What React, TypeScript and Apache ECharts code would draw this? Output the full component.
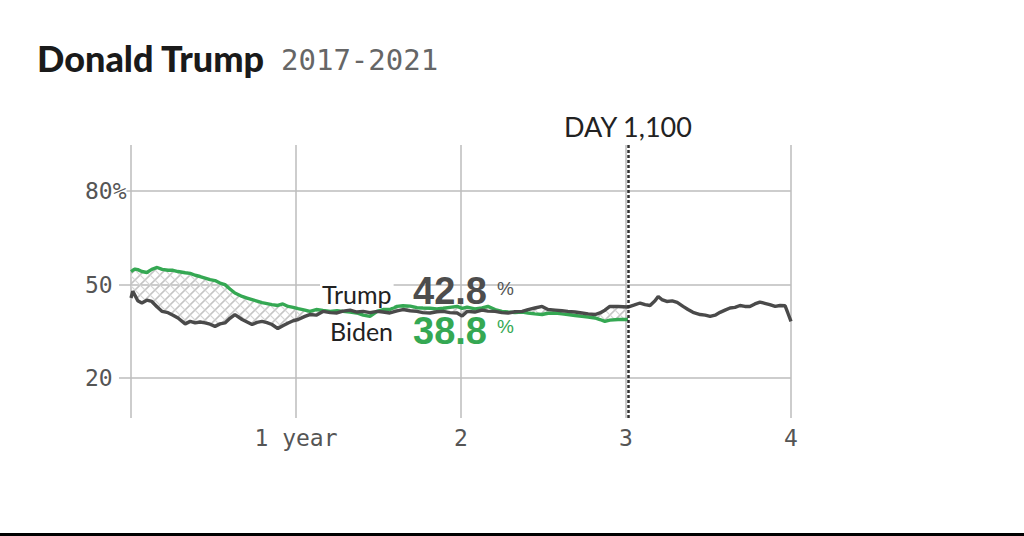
import React, { useEffect, useRef } from "react";
import * as echarts from "echarts";

// Days since inauguration (shared sample points up to day 1,100)
const sharedDays = [
  0, 4, 9, 15, 24, 35, 46, 58, 69, 82, 93, 104, 120, 131, 142, 153, 164, 175, 186, 197, 208, 219, 230,
  246, 257, 268, 279, 290, 301, 312, 325, 336, 348, 359, 370, 385, 396, 410, 425, 441, 456, 469, 485,
  500, 514, 529, 545, 558, 573, 589, 602, 618, 633, 646, 662, 677, 691, 706, 722, 733, 744, 761, 777,
  790, 806, 821, 835, 850, 866, 879, 894, 910, 923, 939, 954, 967, 983, 998, 1012, 1027, 1038, 1049,
  1060, 1078, 1100,
];
const trumpShared = [
  45.7, 47.9, 46.5, 44.8, 44.1, 45.0, 44.6, 42.8, 41.4, 41.0, 40.2, 39.3, 37.4, 38.2, 37.7, 38.0, 37.7,
  37.3, 36.6, 37.4, 37.7, 39.2, 40.4, 38.8, 38.0, 37.2, 37.9, 38.2, 37.8, 37.2, 35.9, 36.8, 37.7, 38.4,
  38.8, 39.8, 40.4, 40.2, 41.4, 41.0, 40.9, 41.5, 41.8, 41.2, 41.4, 41.0, 41.4, 41.2, 40.9, 41.6, 42.0,
  41.6, 41.4, 41.0, 40.9, 41.3, 41.4, 41.0, 40.9, 39.9, 41.4, 41.2, 41.8, 41.5, 41.4, 41.0, 40.9, 41.3,
  41.4, 42.0, 42.5, 43.0, 42.0, 41.8, 41.6, 41.4, 41.2, 40.9, 40.6, 40.4, 40.9, 41.8, 43.0, 43.0, 42.8,
];
const bidenShared = [
  54.2, 54.6, 55.0, 54.8, 54.2, 53.9, 54.9, 55.5, 54.9, 54.6, 54.6, 54.2, 53.8, 53.6, 53.0, 52.6, 52.1,
  51.6, 51.3, 50.5, 50.0, 48.6, 47.3, 46.2, 45.7, 45.2, 44.7, 44.2, 43.9, 43.6, 43.3, 43.8, 43.0, 42.7,
  42.3, 41.8, 41.4, 42.0, 41.7, 41.4, 41.6, 41.4, 41.2, 40.9, 40.2, 39.8, 41.4, 42.0, 42.0, 43.0, 43.2,
  43.1, 42.6, 42.5, 42.4, 42.2, 42.4, 42.7, 43.0, 42.4, 42.8, 42.2, 42.5, 43.0, 42.0, 41.4, 41.2, 41.0,
  41.2, 40.9, 40.6, 40.4, 40.8, 40.9, 40.6, 40.4, 40.1, 39.8, 39.6, 39.3, 38.8, 38.2, 38.6, 38.8, 38.8,
];
// Trump's remaining term after day 1,100
const trumpLaterDays = [
  1113, 1127, 1138, 1149, 1160, 1167, 1175, 1186, 1198, 1209, 1222, 1233, 1244, 1260, 1271, 1282, 1293,
  1304, 1315, 1326, 1337, 1348, 1359, 1370, 1381, 1392, 1403, 1414, 1426, 1437, 1448, 1454, 1461,
];
const trumpLater = [
  43.4, 44.1, 43.6, 43.3, 44.8, 46.2, 45.2, 44.6, 44.8, 44.3, 43.0, 42.0, 41.1, 40.4, 40.2, 39.8, 40.2,
  41.1, 41.8, 42.5, 42.7, 43.3, 43.0, 43.0, 43.8, 44.4, 44.0, 43.6, 43.0, 43.3, 43.2, 40.9, 38.2,
];

const markerDay = 1100;
const yTickValues = [20, 50, 80];
const yTickLabels = ["20", "50", "80%"];
const xTickLabels = ["", "1 year", "2", "3", "4"];
const DAYS_PER_YEAR = 365.25;

const GREEN = "#35a853";
const DARK = "#4a4a4a";
const GRID = "#bdbdbd";
const MONO = "'DejaVu Sans Mono', monospace";

const hatchSvg =
  "<svg xmlns='http://www.w3.org/2000/svg' width='10' height='10'>" +
  "<path d='M0 5 L5 0 M5 10 L10 5' stroke='#c4c4c4' stroke-width='1.6' fill='none'/>" +
  "<path d='M5 0 L10 5 M0 5 L5 10' stroke='#d6d6d6' stroke-width='1.2' fill='none'/>" +
  "</svg>";
const hatchUrl = "data:image/svg+xml;utf8," + encodeURIComponent(hatchSvg);

export default function App() {
  const ref = useRef<HTMLDivElement>(null);

  useEffect(() => {
    if (!ref.current) return;
    const chart = echarts.init(ref.current, null, { renderer: "svg" });

    const trumpData = sharedDays
      .map((d, i) => [d, trumpShared[i]])
      .concat(trumpLaterDays.map((d, i) => [d, trumpLater[i]]));
    const bidenData = sharedDays.map((d, i) => [d, bidenShared[i]]);

    const idx = sharedDays.indexOf(markerDay);
    const trumpNow = trumpShared[idx].toFixed(1);
    const bidenNow = bidenShared[idx].toFixed(1);

    const bandRender = (_params: any, api: any) => {
      const pts: number[][] = [];
      for (let i = 0; i < sharedDays.length; i++) pts.push(api.coord([sharedDays[i], trumpShared[i]]));
      for (let i = sharedDays.length - 1; i >= 0; i--) pts.push(api.coord([sharedDays[i], bidenShared[i]]));
      return {
        type: "polygon",
        shape: { points: pts },
        style: {
          fill: { image: hatchUrl, repeat: "repeat", imageWidth: 10, imageHeight: 10 },
          stroke: "none",
        },
        silent: true,
      };
    };

    const option: any = {
      animation: false,
      backgroundColor: "#ffffff",
      grid: { left: 131, right: 233, top: 145, bottom: 118 },
      xAxis: {
        type: "value",
        min: 0,
        max: 4 * DAYS_PER_YEAR,
        interval: DAYS_PER_YEAR,
        axisLine: { show: false },
        axisTick: { show: false },
        splitLine: { show: true, lineStyle: { color: GRID, width: 1.5 } },
        axisLabel: {
          margin: 8,
          color: "#555",
          fontSize: 23,
          fontFamily: MONO,
          formatter: (v: number) => xTickLabels[Math.round(v / DAYS_PER_YEAR)] ?? "",
        },
      },
      yAxis: {
        type: "value",
        min: 7.2,
        max: 94.8,
        axisLine: { show: false },
        axisTick: {
          show: true,
          customValues: yTickValues,
          length: 12,
          lineStyle: { color: GRID, width: 1.5 },
        },
        splitLine: { show: true, lineStyle: { color: GRID, width: 1.5 } },
        axisLabel: {
          customValues: yTickValues,
          align: "left",
          margin: 46,
          color: "#555",
          fontSize: 23,
          fontFamily: MONO,
          backgroundColor: "#ffffff",
          formatter: (v: number) => yTickLabels[yTickValues.indexOf(Math.round(v))] ?? "",
        },
      },
      series: [
        {
          type: "custom",
          name: "gap",
          data: [[0, 0]],
          renderItem: bandRender,
          silent: true,
          z: 1,
        },
        {
          type: "line",
          name: "Biden",
          data: bidenData,
          symbol: "none",
          z: 3,
          lineStyle: { color: GREEN, width: 3.4 },
          itemStyle: { color: GREEN },
        },
        {
          type: "line",
          name: "Trump",
          data: trumpData,
          symbol: "none",
          z: 4,
          lineStyle: { color: DARK, width: 3.4 },
          itemStyle: { color: DARK },
          markLine: {
            silent: true,
            symbol: "none",
            lineStyle: { color: "#333", width: 2.5, type: [3, 2] },
            label: {
              show: true,
              position: "end",
              distance: 5,
              formatter: "DAY 1,100",
              color: "#222",
              fontSize: 27,
              fontFamily: "Lato, 'Noto Sans', sans-serif",
            },
            data: [{ xAxis: markerDay }],
          },
        },
      ],
      graphic: [
        {
          type: "text",
          left: 37,
          top: 40,
          style: {
            text: "Donald Trump",
            fontSize: 36,
            fontWeight: 900,
            fontFamily: "Lato, 'Noto Sans', sans-serif",
            fill: "#1a1a1a",
          },
        },
        {
          type: "text",
          left: 281,
          top: 45,
          style: {
            text: "2017-2021",
            fontSize: 29,
            fontFamily: MONO,
            fill: "#666",
          },
        },
        {
          type: "text",
          x: 320,
          y: 294,
          z: 100,
          style: {
            text: "Trump",
            fontSize: 25,
            fontFamily: "Lato, 'Noto Sans', sans-serif",
            fill: "#222",
            verticalAlign: "middle",
            backgroundColor: "#ffffff",
            padding: [0, 2],
          },
        },
        {
          type: "text",
          x: 413,
          y: 291,
          z: 100,
          style: {
            text: trumpNow,
            fontSize: 38,
            fontWeight: "bold",
            fontFamily: "'Liberation Sans', Arial, sans-serif",
            fill: "#4d4d4d",
            verticalAlign: "middle",
          },
        },
        {
          type: "text",
          x: 497,
          y: 288,
          z: 100,
          style: {
            text: "%",
            fontSize: 19,
            fontFamily: "'Liberation Sans', Arial, sans-serif",
            fill: "#555",
            verticalAlign: "middle",
          },
        },
        {
          type: "text",
          x: 330,
          y: 331,
          z: 100,
          style: {
            text: "Biden",
            fontSize: 25,
            fontFamily: "Lato, 'Noto Sans', sans-serif",
            fill: "#222",
            verticalAlign: "middle",
          },
        },
        {
          type: "text",
          x: 413,
          y: 331,
          z: 100,
          style: {
            text: bidenNow,
            fontSize: 38,
            fontWeight: "bold",
            fontFamily: "'Liberation Sans', Arial, sans-serif",
            fill: GREEN,
            verticalAlign: "middle",
          },
        },
        {
          type: "text",
          x: 497,
          y: 326,
          z: 100,
          style: {
            text: "%",
            fontSize: 19,
            fontFamily: "'Liberation Sans', Arial, sans-serif",
            fill: GREEN,
            verticalAlign: "middle",
          },
        },
        {
          type: "rect",
          shape: { x: 0, y: 533, width: 1024, height: 3 },
          style: { fill: "#000" },
        },
      ],
    };

    chart.setOption(option);
    return () => chart.dispose();
  }, []);

  return (
    <div
      ref={ref}
      style={{ position: "absolute", left: 0, top: 0, width: 1024, height: 536, background: "#fff" }}
    />
  );
}
